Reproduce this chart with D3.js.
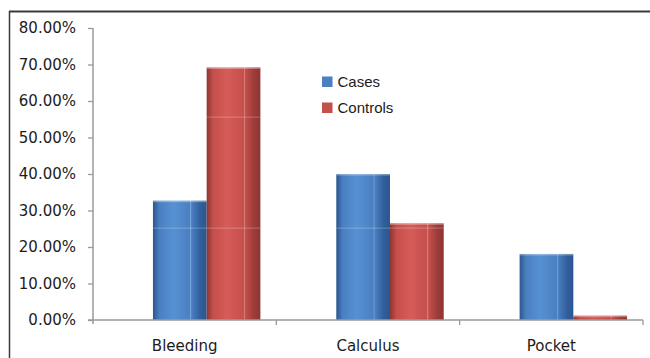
<!DOCTYPE html>
<html>
<head>
<meta charset="utf-8">
<script src="https://cdn.jsdelivr.net/npm/d3@7/dist/d3.min.js"></script>
<style>
  html, body { margin: 0; padding: 0; background: #fff; }
  svg { display: block; }
</style>
</head>
<body>
<svg id="chart" width="650" height="358"></svg>
<script>
// Data
const categories = ["Bleeding", "Calculus", "Pocket"];
const seriesNames = ["Cases", "Controls"];
const casesValues = [32.7, 40.0, 18.1];
const controlsValues = [69.2, 26.5, 1.2];
const yTicks = [0, 10, 20, 30, 40, 50, 60, 70, 80];

const svg = d3.select("#chart");
const W = 650, H = 358;

// Plot area
const x0 = 93, x1 = 643, yTop = 28, yBase = 320;

const x = d3.scaleBand().domain(categories).range([x0, x1]).padding(0);
const y = d3.scaleLinear().domain([0, 80]).range([yBase, yTop]);

// Bars sit toward the right of each category band (3D column layout)
const groupOffset = x.bandwidth() * 0.327;
const xs = d3.scaleBand().domain(seriesNames)
  .range([0, x.bandwidth() * 0.586]).padding(0);

const colors = {
  Cases:    { dark: "#2b5690", light: "#5791d3", mid: "#4a7fc0", hi: "#7aa7dc", edge: "#305f9c" },
  Controls: { dark: "#8f3532", light: "#d65c58", mid: "#c44f4b", hi: "#e28380", edge: "#9c3c39" }
};

// Cylinder-like shading gradients
const defs = svg.append("defs");
seriesNames.forEach(name => {
  const c = colors[name];
  const g = defs.append("linearGradient").attr("id", "grad-" + name)
    .attr("x1", "0").attr("x2", "1").attr("y1", "0").attr("y2", "0");
  [[0, c.dark], [0.12, c.mid], [0.38, c.light], [0.69, c.mid],
   [0.70, c.hi], [0.72, c.mid], [0.88, c.edge], [1, c.dark]]
    .forEach(([o, col]) => g.append("stop").attr("offset", o).attr("stop-color", col));
});

// Frame
svg.append("line").attr("x1", 9).attr("x2", W).attr("y1", 11.5).attr("y2", 11.5)
  .attr("stroke", "#3a3a3a").attr("stroke-width", 2);
svg.append("line").attr("x1", 9.5).attr("x2", 9.5).attr("y1", 11).attr("y2", H)
  .attr("stroke", "#3a3a3a").attr("stroke-width", 1.5);

// Bars
const rows = categories.map((cat, i) => ({
  cat, vals: [{ name: "Cases", v: casesValues[i] }, { name: "Controls", v: controlsValues[i] }]
}));

const groups = svg.selectAll("g.cat").data(rows).join("g")
  .attr("class", "cat")
  .attr("transform", d => `translate(${x(d.cat) + groupOffset},0)`);

groups.selectAll("rect.bar").data(d => d.vals).join("rect")
  .attr("class", "bar")
  .attr("x", d => xs(d.name))
  .attr("width", xs.bandwidth())
  .attr("y", d => y(d.v))
  .attr("height", d => yBase - y(d.v))
  .attr("fill", d => `url(#grad-${d.name})`);

// Light bevel along the top of each column
groups.selectAll("rect.cap").data(d => d.vals).join("rect")
  .attr("class", "cap")
  .attr("x", d => xs(d.name))
  .attr("width", xs.bandwidth())
  .attr("y", d => y(d.v))
  .attr("height", d => Math.min(1.5, yBase - y(d.v)))
  .attr("fill", "#ffffff").attr("opacity", 0.35);

// Faint reflection lines across the columns
[25.2, 55.6].forEach(level => {
  groups.selectAll(null).data(d => d.vals.filter(v => v.v > level)).join("rect")
    .attr("x", d => xs(d.name))
    .attr("width", xs.bandwidth())
    .attr("y", y(level) - 0.5)
    .attr("height", 1.2)
    .attr("fill", "#ffffff").attr("opacity", 0.22);
});

// Axes
const axisColor = "#9a9a9a";
const yAxis = svg.append("g").attr("transform", `translate(${x0},0)`)
  .call(d3.axisLeft(y).tickValues(yTicks).tickSize(5).tickPadding(12)
    .tickFormat(d => d.toFixed(2) + "%"));
yAxis.select(".domain").attr("stroke", axisColor).attr("stroke-width", 1.5)
  .attr("d", `M0,${yTop}V${yBase + 4}`);
yAxis.selectAll(".tick line").attr("stroke", axisColor).attr("stroke-width", 1.3);
yAxis.selectAll(".tick text")
  .attr("font-family", "DejaVu Sans, Verdana, sans-serif")
  .attr("font-size", 15).attr("fill", "#1c1c1c");

const xAxis = svg.append("g").attr("transform", `translate(0,${yBase})`);
xAxis.append("line").attr("x1", x0 - 5).attr("x2", x1).attr("y1", 0).attr("y2", 0)
  .attr("stroke", axisColor).attr("stroke-width", 1.5);
xAxis.selectAll("line.tk").data(categories).join("line")
  .attr("class", "tk")
  .attr("x1", d => x(d) + x.bandwidth()).attr("x2", d => x(d) + x.bandwidth())
  .attr("y1", 0).attr("y2", 5)
  .attr("stroke", axisColor).attr("stroke-width", 1.3);
xAxis.selectAll("text").data(categories).join("text")
  .attr("x", d => x(d) + x.bandwidth() / 2)
  .attr("y", 31)
  .attr("text-anchor", "middle")
  .attr("font-family", "DejaVu Sans, Verdana, sans-serif")
  .attr("font-size", 15).attr("fill", "#1c1c1c")
  .text(d => d);

// Legend
const legend = svg.append("g").attr("transform", "translate(322,76.5)");
seriesNames.forEach((name, i) => {
  const row = legend.append("g").attr("transform", `translate(0,${i * 26})`);
  row.append("rect").attr("width", 10.5).attr("height", 10.5)
    .attr("fill", colors[name].mid);
  row.append("text").attr("x", 15.5).attr("y", 10)
    .attr("font-family", "Liberation Sans, Arial, sans-serif")
    .attr("font-size", 15).attr("fill", "#1c1c1c")
    .text(name);
});
</script>
</body>
</html>
